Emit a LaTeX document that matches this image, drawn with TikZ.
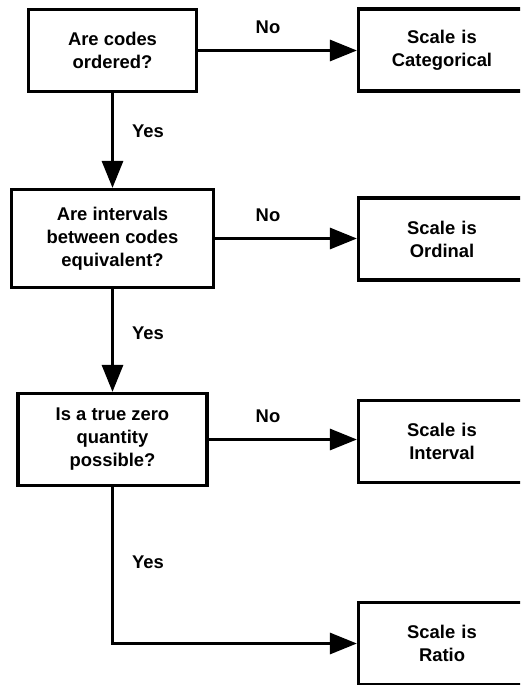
\documentclass[tikz,border=0pt]{standalone}
\usepackage{fontspec}
\setmainfont{Liberation Sans}
\usetikzlibrary{arrows.meta}
\begin{document}
\begin{tikzpicture}[x=1pt,y=-1pt,
  every node/.style={font=\fontsize{18.4}{23}\selectfont\bfseries},
  qbox/.style={draw, line width=3.2pt, inner sep=0pt, align=center},
  rbox/.style={draw, line width=3.2pt, inner sep=0pt, align=center,
    minimum width=167pt, minimum height=82pt, text width=167pt},
  arr/.style={line width=3pt, -{Triangle[length=27pt,width=21pt]}},
  lbl/.style={inner sep=0pt}]
\clip (0,0) rectangle (520,685);
\fill[white] (0,0) rectangle (520,685);

% questions
\node[qbox, minimum width=168pt, minimum height=82pt] (q1) at (112.5,50.5)
  {Are codes\\ordered?};
\node[qbox, minimum width=202pt, minimum height=98pt] (q2) at (112.5,238.5)
  {Are intervals\\between codes\\equivalent?};
\node[qbox, minimum width=189pt, minimum height=92pt] (q3) at (112.5,439.5)
  {Is a true zero\\quantity\\possible?};

% outcomes (their right sides run past the page edge)
\node[rbox] (r1) at (442,50) {Scale is\\Categorical};
\node[rbox] (r2) at (442,239) {Scale is\\Ordinal};
\node[rbox] (r3) at (442,441.5) {Scale is\\Interval};
\node[rbox] (r4) at (442,643.5) {Scale is\\Ratio};

% connectors
\draw[arr] (q1.east) -- (q1.east -| r1.west);
\draw[arr] (q2.east) -- (q2.east -| r2.west);
\draw[arr] (q3.east) -- (q3.east -| r3.west);
\draw[arr] (q1.south) -- (q2.north);
\draw[arr] (q2.south) -- (q3.north);
\draw[arr] (q3.south) |- (r4.west);

% branch labels
\node[lbl] (n1) at (268,27) {No};
\node[lbl] (n2) at (268,215) {No};
\node[lbl] (n3) at (268,416) {No};
\node[lbl] (y1) at (148,131) {Yes};
\node[lbl] (y2) at (148,333) {Yes};
\node[lbl] (y3) at (148,562) {Yes};
\end{tikzpicture}
\end{document}
